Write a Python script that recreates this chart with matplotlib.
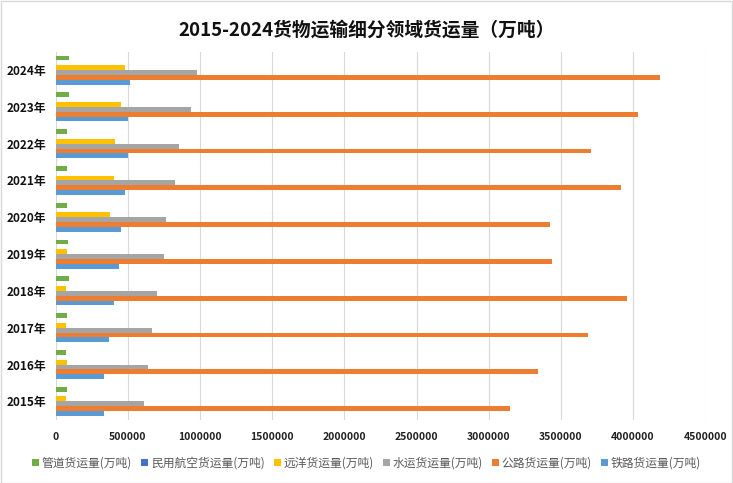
import matplotlib
matplotlib.use("Agg")
import matplotlib.pyplot as plt
import numpy as np
from matplotlib.patches import Rectangle

plt.rcParams['font.family'] = ['Noto Sans CJK SC', 'DejaVu Sans']

# Data (万吨)
years = ["2015年", "2016年", "2017年", "2018年", "2019年",
         "2020年", "2021年", "2022年", "2023年", "2024年"]
rail = [335800, 333200, 368900, 402600, 438900, 455200, 477400, 498400, 503500, 517500]
road = [3150000, 3341300, 3686900, 3956900, 3435500, 3426400, 3913900, 3711900, 4033700, 4188000]
water = [613600, 638200, 667800, 702700, 747200, 761600, 824000, 855400, 936700, 981400]
ocean = [69000, 78000, 71000, 69000, 76000, 376000, 404000, 411000, 452000, 478000]
aviation = [629, 668, 706, 739, 753, 677, 732, 608, 735, 898]
pipeline = [75900, 73400, 80600, 89800, 85000, 78000, 80000, 78000, 90000, 91000]

# bottom -> top within each group
series = [
    ("铁路货运量(万吨)", rail, "#5B9BD5"),
    ("公路货运量(万吨)", road, "#ED7D31"),
    ("水运货运量(万吨)", water, "#A5A5A5"),
    ("远洋货运量(万吨)", ocean, "#FFC000"),
    ("民用航空货运量(万吨)", aviation, "#4472C4"),
    ("管道货运量(万吨)", pipeline, "#70AD47"),
]
xticks = np.arange(0, 4500001, 500000)

fig = plt.figure(figsize=(7.33, 4.83), dpi=100)
ax = fig.add_axes([0.076, 0.131, 0.886, 0.762])

y = np.arange(len(years))
slot = 0.79 / len(series)
handles = []
for k, (name, vals, color) in enumerate(series):
    off = (k - (len(series) - 1) / 2) * slot
    b = ax.barh(y + off, vals, height=slot, color=color, label=name, zorder=3)
    handles.append(b)

ax.set_xlim(0, 4500000)
ax.set_ylim(-0.5, len(years) - 0.5)
ax.set_xticks(xticks)
ax.set_xticklabels([str(v) for v in xticks], fontsize=7.5, fontweight="bold", color="#222222")
ax.set_yticks(y)
ax.set_yticklabels(years, fontsize=8.5, fontweight="bold", color="#111111")
ax.tick_params(axis="both", length=0)
ax.tick_params(axis="x", pad=9)
ax.tick_params(axis="y", pad=7)
ax.grid(axis="x", color="#D9D9D9", linewidth=0.8, zorder=0)
for s in ax.spines.values():
    s.set_visible(False)

fig.suptitle("2015-2024货物运输细分领域货运量（万吨）", x=0.5, y=0.958,
             fontsize=13.5, fontweight="bold", color="#111111")

fig.legend(handles[::-1], [h.get_label() for h in handles[::-1]],
           loc="center", bbox_to_anchor=(0.5, 0.041), ncol=6, frameon=False,
           fontsize=8.5, labelcolor="#595959", handlelength=0.6, handleheight=0.6,
           handletextpad=0.25, columnspacing=0.75)

fig.patches.append(Rectangle((0.001, 0.001), 0.997, 0.997, transform=fig.transFigure,
                             fill=False, edgecolor="#D9D9D9", linewidth=1))

fig.savefig("out.png", dpi=100)
